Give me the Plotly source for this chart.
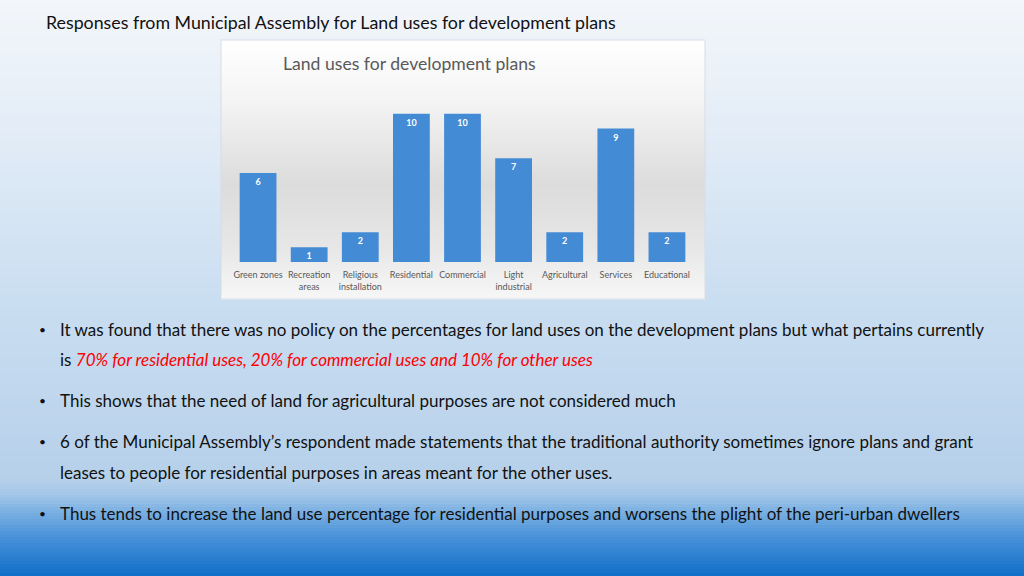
import plotly.graph_objects as go

# chart data
categories = ["Green zones", "Recreation<br>areas", "Religious<br>installation", "Residential",
              "Commercial", "Light<br>industrial", "Agricultural", "Services", "Educational"]
responses = [6, 1, 2, 10, 10, 7, 2, 9, 2]

slide_title = "Responses from Municipal Assembly for Land uses for development plans"
chart_title = "Land uses for development plans"
bullets = [
    "It was found that there was no policy on the percentages for land uses on the development plans but what pertains currently",
    "is <span style='color:#ff0000'><i>70% for residential uses, 20% for commercial uses and 10% for other uses</i></span>",
    "This shows that the need of land for agricultural purposes are not considered much",
    "6 of the Municipal Assembly\u2019s respondent made statements that the traditional authority sometimes ignore plans and grant",
    "leases to people for residential purposes in areas meant for the other uses.",
    "Thus tends to increase the land use percentage for residential purposes and worsens the plight of the peri-urban dwellers",
]
bullet_marks = [True, False, True, True, False, True]
bullet_y = [329, 359, 400, 441, 472, 513]

W, H = 1024, 576


def hex2rgb(h):
    h = h.lstrip("#")
    return [int(h[i:i + 2], 16) for i in (0, 2, 4)]


def color_at(stops, y):
    for (y0, c0), (y1, c1) in zip(stops, stops[1:]):
        if y0 <= y <= y1:
            t = (y - y0) / (y1 - y0) if y1 > y0 else 0
            a, b = hex2rgb(c0), hex2rgb(c1)
            return "rgb(%d,%d,%d)" % tuple(round(a[i] + (b[i] - a[i]) * t) for i in range(3))
    return stops[-1][1]


def gradient(x0, x1, y0, y1, stops, step=3):
    out = []
    y = y0
    while y < y1:
        ye = min(y + step, y1)
        out.append(dict(type="rect", xref="paper", yref="paper", layer="below",
                        x0=x0 / W, x1=x1 / W, y0=1 - (ye + 0.5) / H, y1=1 - y / H,
                        fillcolor=color_at(stops, (y + ye) / 2), line_width=0))
        y = ye
    return out


bg_stops = [(0, "#f3f6fa"), (100, "#e7eff8"), (300, "#cadef1"), (480, "#b6d0ea"),
            (495, "#a3c6e8"), (510, "#7eb2e2"), (540, "#448ed8"), (576, "#106ec8")]
panel_stops = [(40, "#ffffff"), (100, "#f4f4f4"), (185, "#dcdcdc"), (245, "#e6e6e6"), (299, "#f7f7f7")]

shapes = gradient(0, W, 0, H, bg_stops, step=3)
shapes += gradient(221, 705, 40, 299, panel_stops, step=3)
shapes.append(dict(type="rect", xref="paper", yref="paper", layer="below",
                   x0=221 / W, x1=705 / W, y0=1 - 299 / H, y1=1 - 40 / H,
                   line=dict(color="#d6dde6", width=1), fillcolor="rgba(0,0,0,0)"))

fig = go.Figure()
fig.add_trace(go.Bar(
    x=categories, y=responses,
    marker=dict(color="#448bd6", line_width=0),
    text=responses, textposition="inside", insidetextanchor="end", textangle=0,
    textfont=dict(family="Lato", size=9, color="white", weight="bold"),
    cliponaxis=False, constraintext="none",
))

annotations = [
    dict(text=slide_title, x=44 / W, y=1 - 22 / H, xref="paper", yref="paper",
         xanchor="left", yanchor="middle", showarrow=False,
         font=dict(family="Lato", size=17.8, color="#111111")),
    dict(text=chart_title, x=281 / W, y=1 - 63 / H, xref="paper", yref="paper",
         xanchor="left", yanchor="middle", showarrow=False,
         font=dict(family="Lato", size=17.6, color="#595959")),
]
for line, mark, yy in zip(bullets, bullet_marks, bullet_y):
    if mark:
        annotations.append(dict(text="\u2022", x=37 / W, y=1 - yy / H, xref="paper", yref="paper",
                                xanchor="left", yanchor="middle", showarrow=False,
                                font=dict(family="Lato", size=12, color="#111111")))
    annotations.append(dict(text=line, x=58 / W, y=1 - yy / H, xref="paper", yref="paper",
                            xanchor="left", yanchor="middle", showarrow=False,
                            font=dict(family="Lato", size=17, color="#111111")))

fig.update_layout(
    width=W, height=H,
    margin=dict(l=0, r=0, t=0, b=0),
    paper_bgcolor="white", plot_bgcolor="rgba(0,0,0,0)",
    showlegend=False, bargap=0.28,
    shapes=shapes, annotations=annotations,
    xaxis=dict(domain=[232.5 / W, 692.5 / W], showgrid=False, zeroline=False, showline=False,
               ticks="", ticklabelstandoff=6,
               tickfont=dict(family="Lato", size=9, color="#595959"), fixedrange=True),
    yaxis=dict(domain=[1 - 262 / H, 1 - 84 / H], range=[0, 12], visible=False, fixedrange=True),
)

fig.write_html("out.html", config={"displayModeBar": False},
               post_script="document.body.style.margin='0';")
